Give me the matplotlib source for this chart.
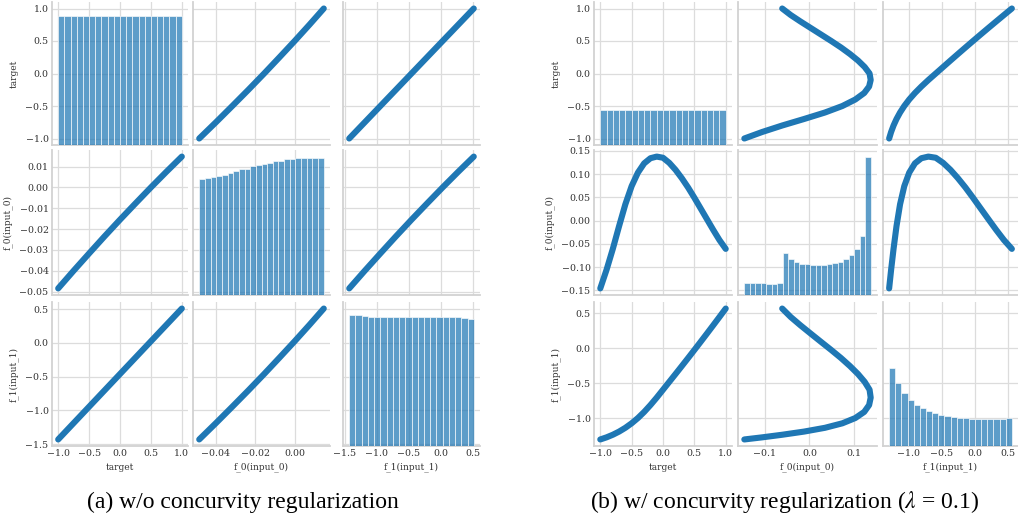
import numpy as np
import matplotlib
matplotlib.use("Agg")
import matplotlib.pyplot as plt
from matplotlib.ticker import MultipleLocator

# variables of the two pair plots
var_labels = ["target", "f_0(input_0)", "f_1(input_1)"]

# (a) w/o concurvity regularization: curve samples
a_target = [-1.0, -0.75, -0.5, -0.25, 0.0, 0.25, 0.5, 0.75, 1.0]
a_f0 = [-0.0485, -0.0400, -0.0317, -0.0235, -0.0155, -0.0077, 0.0000, 0.0075, 0.0148]
a_f1 = [-1.43, -1.1875, -0.945, -0.7025, -0.46, -0.2175, 0.025, 0.2675, 0.51]

# (b) w/ concurvity regularization
b_target = [-1.0, -0.9, -0.8, -0.7, -0.6, -0.5, -0.4, -0.3, -0.2, -0.1, 0.0,
            0.1, 0.2, 0.3, 0.4, 0.5, 0.6, 0.7, 0.8, 0.9, 1.0]
b_f0 = [-0.146, -0.106, -0.061, -0.012, 0.035, 0.074, 0.103, 0.123, 0.134, 0.1375, 0.135,
        0.124, 0.109, 0.091, 0.071, 0.049, 0.026, 0.003, -0.020, -0.042, -0.061]
b_f1 = [-1.300, -1.270, -1.233, -1.188, -1.134, -1.070, -0.995, -0.908, -0.810, -0.704, -0.592,
        -0.480, -0.368, -0.255, -0.141, -0.026, 0.090, 0.207, 0.325, 0.444, 0.564]

# histogram counts on the diagonals (shared count scale, 0..100)
a_hist_target = [90.0] * 20
a_hist_f0 = [79.9, 80.8, 81.3, 82.2, 83.1, 84.3, 85.2, 86.6, 87.0, 88.7, 89.6,
             90.3, 91.2, 92.6, 92.6, 93.5, 94.0, 94.4, 94.4, 94.4, 94.4, 94.4]
a_hist_f1 = [91.2, 90.8, 90.3, 89.8, 89.8, 89.6, 89.6, 89.6, 89.6, 89.6,
             89.8, 89.8, 89.8, 89.8, 89.8, 89.6, 89.6, 89.6, 89.2, 88.5]

b_hist_target = [24.4] * 20
b_hist_f0 = [8.6, 8.6, 8.2, 8.2, 7.5, 7.5, 8.2, 28.7, 24.7, 22.8, 21.7, 21.2,
             21.0, 20.5, 21.0, 21.2, 21.9, 22.8, 24.7, 27.5, 31.5, 40.6, 95.3]
b_hist_f1 = [54.2, 43.7, 36.5, 32.1, 28.6, 26.3, 24.0, 22.6, 21.2, 20.5,
             20.0, 19.5, 19.3, 18.8, 18.8, 18.8, 18.8, 18.8, 18.8, 19.3]

# tick spacing per variable (x axis, y axis)
a_xstep = [0.5, 0.02, 0.5]
a_ystep = [0.5, 0.01, 0.5]
b_xstep = [0.5, 0.1, 0.5]
b_ystep = [0.5, 0.05, 0.5]

captions = ["(a) w/o concurvity regularization",
            r"(b) w/ concurvity regularization ($\lambda$ = 0.1)"]

plt.rcParams["font.family"] = "DejaVu Serif"
plt.rcParams["mathtext.fontset"] = "stix"

W, H = 1018, 519
fig = plt.figure(figsize=(W / 100, H / 100), dpi=100)

BLUE = "#1f77b4"
GRID = "#dcdcdc"
SPINE = "#d2d2d2"
TXT = "#333333"


def rect(x0, x1, y0, y1):
    return [x0 / W, 1 - y1 / H, (x1 - x0) / W, (y1 - y0) / H]


def pairplot(cols, rows, data, hists, xstep, ystep):
    axes = [[None] * 3 for _ in range(3)]
    for i in range(3):
        for j in range(3):
            kw = {}
            if i > 0:
                kw["sharex"] = axes[0][j]
            if j > 0:
                kw["sharey"] = axes[i][0]
            ax = fig.add_axes(rect(cols[j][0], cols[j][1], rows[i][0], rows[i][1]), **kw)
            axes[i][j] = ax
            ax.set_axisbelow(True)
            ax.grid(True, color=GRID, linewidth=0.9)
            for s in ["top", "right"]:
                ax.spines[s].set_visible(False)
            for s in ["left", "bottom"]:
                ax.spines[s].set_color(SPINE)
                ax.spines[s].set_linewidth(1.3)
            ax.tick_params(length=0, labelsize=6.8, colors=TXT, pad=2.5,
                           labelleft=(j == 0), labelbottom=(i == 2))
            if i != j:
                ax.plot(data[j], data[i], color=BLUE, linewidth=4.4,
                        solid_capstyle="round", solid_joinstyle="round")
    for i in range(3):
        axes[i][0].yaxis.set_major_locator(MultipleLocator(ystep[i]))
    for j in range(3):
        axes[0][j].xaxis.set_major_locator(MultipleLocator(xstep[j]))
    # diagonal histograms drawn in overlay axes that share x with the column
    hax0 = None
    for k in range(3):
        base = axes[k][k]
        hax = fig.add_axes(base.get_position(), sharex=base,
                           sharey=hax0 if hax0 is not None else None)
        if hax0 is None:
            hax0 = hax
        hax.patch.set_visible(False)
        hax.axis("off")
        edges = np.linspace(min(data[k]), max(data[k]), len(hists[k]) + 1)
        hax.bar(edges[:-1], hists[k], width=np.diff(edges), align="edge",
                color=BLUE, alpha=0.72, edgecolor="white", linewidth=0.6)
        hax.set_ylim(0, 100)
    for i in range(3):
        axes[i][0].set_ylabel(var_labels[i], fontsize=6.5, color=TXT, labelpad=5)
    for j in range(3):
        axes[2][j].set_xlabel(var_labels[j], fontsize=6.5, color=TXT, labelpad=3)
    return axes


rows = [(2, 145), (150, 295), (302, 446)]
pairplot([(52, 188), (193, 330), (343, 480)], rows,
         [a_target, a_f0, a_f1], [a_hist_target, a_hist_f0, a_hist_f1],
         a_xstep, a_ystep)
pairplot([(594, 732), (738, 877), (883, 1018)], rows,
         [b_target, b_f0, b_f1], [b_hist_target, b_hist_f0, b_hist_f1],
         b_xstep, b_ystep)

fig.text(243 / W, 1 - 502 / H, captions[0], ha="center", va="center",
         fontsize=17, family="Liberation Serif")
fig.text(785 / W, 1 - 502 / H, captions[1], ha="center", va="center",
         fontsize=17, family="Liberation Serif")

fig.savefig("out.png", dpi=100)
